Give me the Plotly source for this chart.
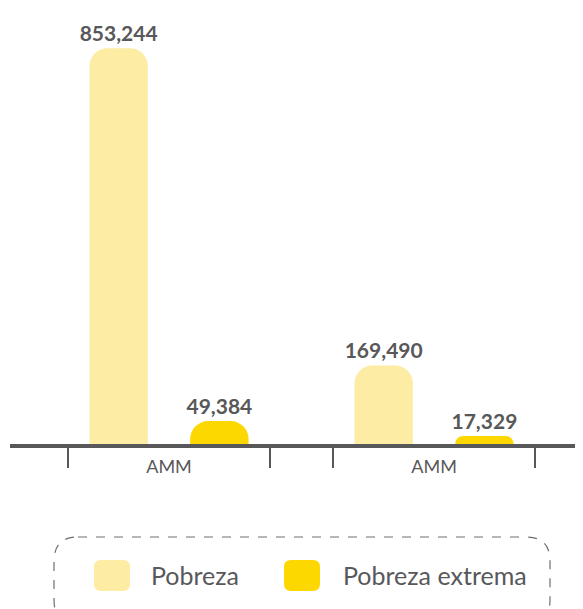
import plotly.graph_objects as go

# Data
categories = ["AMM", "AMM"]
series_names = ["Pobreza", "Pobreza extrema"]
pobreza = [853244, 169490]
pobreza_extrema = [49384, 17329]
colors = ["#FCECA4", "#FDD700"]

# the page has an 8px body margin, so the figure is a bit smaller
OFF = 8
W, H = 583 - OFF, 609 - OFF
ML, MR, MT, MB = 2, 0, 0, 165
TEXT = "#58585A"
FONT = "Lato"


def px(x):
    # page pixel -> paper x
    return (x - OFF - ML) / (W - ML - MR)


def py(y):
    return (H - MB - (y - OFF)) / (H - MB - MT)


def rounded_rect(x0, y0, x1, y1, r):
    pts = [
        f"M {px(x0 + r)},{py(y0)}",
        f"L {px(x1 - r)},{py(y0)}",
        f"Q {px(x1)},{py(y0)} {px(x1)},{py(y0 + r)}",
        f"L {px(x1)},{py(y1 - r)}",
        f"Q {px(x1)},{py(y1)} {px(x1 - r)},{py(y1)}",
        f"L {px(x0 + r)},{py(y1)}",
        f"Q {px(x0)},{py(y1)} {px(x0)},{py(y1 - r)}",
        f"L {px(x0)},{py(y0 + r)}",
        f"Q {px(x0)},{py(y0)} {px(x0 + r)},{py(y0)}",
        "Z",
    ]
    return " ".join(pts)


xpos = list(range(len(categories)))

fig = go.Figure()
for name, vals, col in zip(series_names, [pobreza, pobreza_extrema], colors):
    fig.add_trace(go.Bar(
        x=xpos, y=vals, name=name,
        marker=dict(color=col, cornerradius=18, line_width=0),
        text=[f"{v:,}" for v in vals],
        textposition="outside",
        constraintext="none",
        textfont=dict(family=FONT, size=21, color=TEXT, weight=700),
        cliponaxis=False,
        showlegend=False,
    ))

# custom legend (dashed rounded box, rounded swatches)
shapes = [dict(type="path", xref="paper", yref="paper",
               path=rounded_rect(54, 537, 550, 624, 24),
               line=dict(color="#6E6E70", width=1.2, dash="dash"))]
annotations = []
legend_items = [(94, 149), (284, 341)]
for (sx, tx), name, col in zip(legend_items, series_names, colors):
    shapes.append(dict(type="path", xref="paper", yref="paper",
                       path=rounded_rect(sx, 560, sx + 36, 591, 7),
                       fillcolor=col, line_width=0))
    annotations.append(dict(x=px(tx), y=py(575), xref="paper", yref="paper",
                            text=name, showarrow=False, xanchor="left", yanchor="middle",
                            font=dict(family=FONT, size=25, color=TEXT)))

fig.update_layout(
    width=W, height=H,
    margin=dict(l=ML, r=MR, t=MT, b=MB),
    paper_bgcolor="white", plot_bgcolor="white",
    barmode="group", bargap=0.24, bargroupgap=0.42,
    uniformtext=dict(mode="show", minsize=21),
    shapes=shapes, annotations=annotations,
    xaxis=dict(
        range=[-0.6, 1.562],
        tickvals=xpos, ticktext=categories,
        ticks="", showgrid=False, zeroline=False,
        showline=True, linecolor="#58585A", linewidth=4,
        tickfont=dict(family=FONT, size=18, color=TEXT),
        ticklabelstandoff=3,
        minor=dict(tickmode="array", tickvals=[-0.38, 0.38, 0.62, 1.38],
                   ticks="outside", ticklen=20, tickwidth=2, tickcolor="#58585A",
                   showgrid=False),
    ),
    yaxis=dict(range=[0, 940000], visible=False, showgrid=False, zeroline=False),
)

fig.write_html("out.html")
